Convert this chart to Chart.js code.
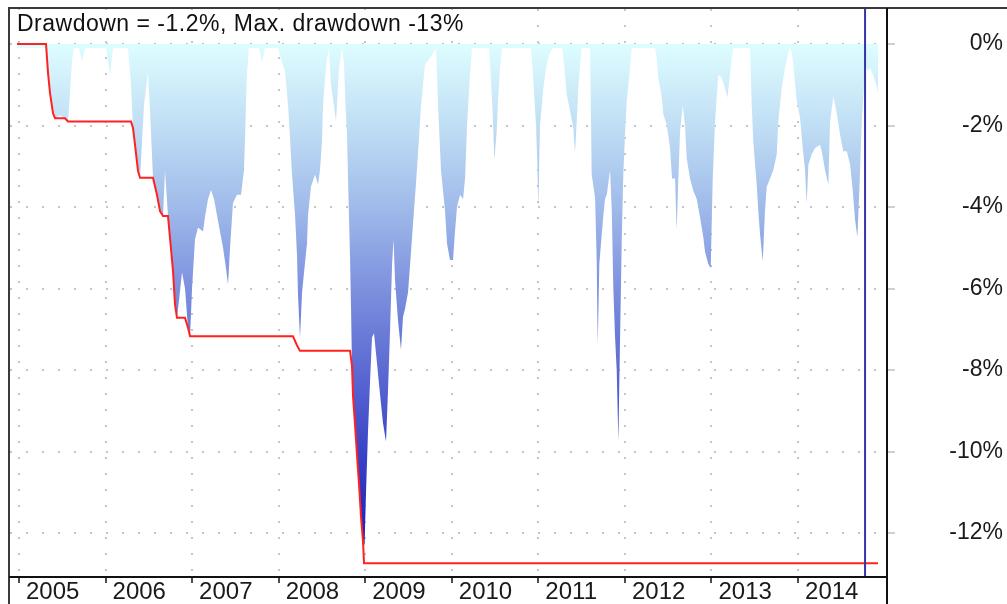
<!DOCTYPE html>
<html>
<head>
<meta charset="utf-8">
<title>Drawdown</title>
<script src="https://cdn.jsdelivr.net/npm/chart.js@4.4.1/dist/chart.umd.min.js"></script>
<style>
  html, body { margin: 0; padding: 0; background: #fff; }
  #wrap { width: 1007px; height: 604px; position: relative; }
</style>
</head>
<body>
<div id="wrap"><canvas id="ddChart"></canvas></div>
<script>
// drawdown series, dates as decimal years
const dates = [
  2004.977, 2005.312, 2005.335, 2005.358, 2005.393, 2005.416, 2005.474, 2005.531, 2005.566, 2005.589, 2005.612, 2005.635, 2005.693, 2005.728, 2005.762,
  2006.005, 2006.051, 2006.086, 2006.259, 2006.294, 2006.317, 2006.340, 2006.375, 2006.398, 2006.421, 2006.444, 2006.490, 2006.513, 2006.548, 2006.594,
  2006.629, 2006.664, 2006.687, 2006.721, 2006.744, 2006.779, 2006.802, 2006.825, 2006.848, 2006.883, 2006.918, 2006.952, 2006.976, 2006.999, 2007.033,
  2007.068, 2007.126, 2007.149, 2007.184, 2007.218, 2007.253, 2007.287, 2007.322, 2007.357, 2007.391, 2007.415, 2007.438, 2007.472, 2007.519, 2007.565,
  2007.599, 2007.611, 2007.634, 2007.657, 2007.773, 2007.807, 2007.842, 2007.992, 2008.015, 2008.073, 2008.108, 2008.131, 2008.154, 2008.189, 2008.212,
  2008.223, 2008.246, 2008.270, 2008.293, 2008.327, 2008.339, 2008.373, 2008.420, 2008.454, 2008.477, 2008.500, 2008.512, 2008.535, 2008.558, 2008.581,
  2008.604, 2008.639, 2008.662, 2008.697, 2008.732, 2008.755, 2008.772, 2008.789, 2008.807, 2008.824, 2008.836, 2008.847, 2008.859, 2008.882, 2008.905,
  2008.928, 2008.951, 2008.974, 2008.992, 2009.009, 2009.032, 2009.055, 2009.078, 2009.101, 2009.136, 2009.171, 2009.205, 2009.240, 2009.263, 2009.287,
  2009.310, 2009.327, 2009.344, 2009.379, 2009.413, 2009.436, 2009.459, 2009.494, 2009.529, 2009.552, 2009.587, 2009.621, 2009.644, 2009.690, 2009.748,
  2009.818, 2009.841, 2009.875, 2009.922, 2009.945, 2009.979, 2010.014, 2010.037, 2010.060, 2010.095, 2010.130, 2010.153, 2010.176, 2010.210, 2010.234,
  2010.430, 2010.447, 2010.473, 2010.491, 2010.519, 2010.534, 2010.557, 2010.580, 2010.915, 2010.935, 2010.973, 2010.988, 2010.999, 2011.019, 2011.057,
  2011.096, 2011.135, 2011.169, 2011.273, 2011.288, 2011.308, 2011.328, 2011.366, 2011.404, 2011.423, 2011.443, 2011.462, 2011.481, 2011.501, 2011.597,
  2011.616, 2011.655, 2011.674, 2011.686, 2011.704, 2011.732, 2011.751, 2011.770, 2011.790, 2011.828, 2011.848, 2011.866, 2011.886, 2011.905, 2011.924,
  2011.943, 2011.963, 2011.981, 2012.001, 2012.021, 2012.059, 2012.079, 2012.348, 2012.367, 2012.386, 2012.425, 2012.444, 2012.483, 2012.521, 2012.544,
  2012.579, 2012.598, 2012.617, 2012.637, 2012.668, 2012.694, 2012.714, 2012.752, 2012.790, 2012.829, 2012.868, 2012.906, 2012.925, 2012.963, 2012.991,
  2013.014, 2013.041, 2013.079, 2013.118, 2013.156, 2013.183, 2013.214, 2013.234, 2013.252, 2013.445, 2013.465, 2013.483, 2013.522, 2013.541, 2013.561,
  2013.592, 2013.618, 2013.638, 2013.676, 2013.714, 2013.754, 2013.772, 2013.811, 2013.849, 2013.888, 2013.907, 2013.927, 2013.945, 2013.985, 2014.023,
  2014.054, 2014.081, 2014.100, 2014.119, 2014.158, 2014.196, 2014.254, 2014.274, 2014.312, 2014.350, 2014.370, 2014.408, 2014.447, 2014.485, 2014.523,
  2014.563, 2014.601, 2014.632, 2014.658, 2014.685, 2014.708, 2014.736, 2014.754, 2014.774, 2014.797, 2014.832, 2014.855, 2014.889, 2014.912, 2014.924
];
const drawdown = [
  -0.1, -0.1, -0.7, -1.2, -1.7, -1.82, -1.75, -1.82, -1.9, -1.2, -0.4, -0.1, -0.1, -0.43, -0.1,
  -0.1, -0.75, -0.1, -0.1, -1.0, -2.06, -2.47, -3.12, -3.28, -2.4, -1.5, -0.7, -1.6, -3.28, -3.7,
  -4.1, -4.22, -3.1, -4.22, -4.75, -5.57, -6.39, -6.72, -6.3, -5.6, -6.0, -6.96, -7.17, -6.0, -4.8,
  -4.5, -4.6, -4.24, -3.8, -3.58, -3.8, -4.2, -4.6, -5.0, -5.5, -5.9, -5.0, -3.9, -3.7, -3.7,
  -3.1, -2.3, -0.7, -0.1, -0.1, -0.45, -0.1, -0.1, -0.3, -0.67, -1.5, -2.3, -3.2, -4.2, -5.2,
  -6.15, -7.2, -6.1, -5.6, -4.9, -4.2, -3.5, -3.2, -3.45, -3.1, -2.4, -1.5, -0.85, -0.35, -0.1,
  -1.0, -1.5, -1.9, -0.6, -0.1, -0.5, -1.5, -2.2, -3.8, -5.2, -6.5, -7.9, -8.65, -9.35, -10.1,
  -10.8, -11.6, -12.2, -12.3, -11.0, -9.5, -8.3, -7.2, -7.1, -7.84, -8.6, -9.3, -9.76, -8.5, -7.0,
  -5.4, -4.8, -5.8, -6.8, -7.5, -6.7, -6.5, -6.1, -5.1, -4.4, -3.4, -2.3, -1.5, -0.5, -0.35,
  -0.1, -1.5, -3.1, -4.1, -4.9, -5.3, -5.3, -4.6, -4.0, -3.7, -3.8, -3.3, -2.0, -0.75, -0.1,
  -0.1, -0.67, -1.73, -2.84, -2.14, -1.4, -0.6, -0.1, -0.1, -0.67, -2.0, -2.9, -4.0, -2.0, -1.08,
  -0.5, -0.2, -0.1, -0.1, -0.34, -0.75, -1.24, -1.65, -2.06, -2.67, -1.9, -1.08, -0.5, -0.1, -0.1,
  -3.2, -3.77, -5.33, -7.37, -5.4, -4.67, -4.2, -3.8, -3.7, -3.1, -4.1, -6.0, -7.2, -8.0, -9.74,
  -7.3, -4.84, -3.2, -2.2, -1.4, -0.6, -0.1, -0.1, -0.34, -0.83, -1.3, -1.73, -1.98, -2.55, -3.3,
  -3.3, -4.55, -3.3, -2.14, -1.5, -2.0, -2.8, -3.3, -3.6, -3.8, -4.26, -4.75, -5.1, -5.4, -5.5,
  -3.3, -1.9, -0.75, -0.83, -1.08, -1.32, -0.75, -0.34, -0.1, -0.1, -1.5, -2.4, -3.45, -4.1, -4.67,
  -5.33, -4.1, -3.5, -3.3, -3.1, -2.7, -1.9, -1.08, -0.59, -0.2, -0.1, -0.2, -0.5, -1.4, -1.8,
  -2.55, -3.1, -3.9, -2.96, -2.7, -2.55, -2.47, -2.63, -3.1, -3.45, -1.9, -1.28, -1.7, -2.22, -2.63,
  -2.63, -2.95, -3.6, -4.3, -4.75, -3.6, -1.9, -1.3, -0.4, -0.65, -0.6, -0.7, -0.9, -1.05, -1.2
];

// max drawdown (red step line)
const maxDates = [
  2004.977, 2005.312, 2005.335, 2005.358, 2005.393, 2005.416, 2005.531, 2005.566,
  2006.294, 2006.317, 2006.340, 2006.375, 2006.398, 2006.548, 2006.594, 2006.629, 2006.664,
  2006.721, 2006.744, 2006.779, 2006.802, 2006.825, 2006.918, 2006.952, 2006.976,
  2008.165, 2008.208, 2008.246, 2008.824, 2008.847, 2008.859, 2008.882, 2008.905,
  2008.928, 2008.951, 2008.974, 2008.986, 2014.924
];
const maxDrawdown = [
  0, 0, -0.7, -1.2, -1.7, -1.82, -1.82, -1.9,
  -1.9, -2.06, -2.47, -3.12, -3.28, -3.28, -3.7, -4.1, -4.22,
  -4.22, -4.75, -5.57, -6.39, -6.72, -6.72, -6.96, -7.17,
  -7.17, -7.38, -7.53, -7.53, -7.9, -8.65, -9.35, -10.1,
  -10.8, -11.6, -12.2, -12.74, -12.74
];

const markerDate = 2014.774;
const yearTicks = [2005, 2006, 2007, 2008, 2009, 2010, 2011, 2012, 2013, 2014];
const pctTicks = [0, -2, -4, -6, -8, -10, -12];
const xMin = 2004.896, xMax = 2015.016;
const yMin = -13.08, yMax = 0.86;
const titleText = "Drawdown = -1.2%, Max. drawdown -13%";

const fontFamily = "'Liberation Sans', Arial, sans-serif";

function areaGradient(context) {
  const chart = context.chart;
  const { ctx, chartArea, scales } = chart;
  if (!chartArea) return "rgba(150,170,230,0.8)";
  const top = scales.y.getPixelForValue(0);
  const bottom = scales.y.getPixelForValue(-12.75);
  const g = ctx.createLinearGradient(0, top, 0, bottom);
  g.addColorStop(0, "rgb(222,253,255)");
  g.addColorStop(0.157, "rgb(192,222,244)");
  g.addColorStop(0.314, "rgb(160,186,234)");
  g.addColorStop(0.47, "rgb(125,145,222)");
  g.addColorStop(0.627, "rgb(92,106,210)");
  g.addColorStop(0.784, "rgb(58,68,198)");
  g.addColorStop(1, "rgb(20,25,180)");
  return g;
}

// axis label padding would otherwise push the plot area down
function noScalePadding(scale) {
  scale.paddingTop = 0;
  scale.paddingBottom = 0;
  scale.paddingLeft = 0;
  scale.paddingRight = 0;
}

// frame lines and the caption in the top-left corner
const framePlugin = {
  id: "frame",
  afterDraw(chart) {
    const { ctx, chartArea, width, height } = chart;
    ctx.save();
    ctx.fillStyle = "#fff";
    ctx.fillRect(chartArea.left, chartArea.top + 1, 462, 30);
    ctx.font = "23px " + fontFamily;
    ctx.letterSpacing = "0.5px";
    ctx.fillStyle = "#111";
    ctx.textBaseline = "alphabetic";
    ctx.fillText(titleText, chartArea.left + 7, 31);
    ctx.letterSpacing = "0px";

    ctx.lineWidth = 2;
    ctx.strokeStyle = "#3a3a3a";
    ctx.beginPath();
    ctx.moveTo(9, height);
    ctx.lineTo(9, 8);
    ctx.lineTo(width, 8);
    ctx.stroke();
    ctx.strokeStyle = "#111";
    ctx.beginPath();
    ctx.moveTo(chartArea.right + 1, 8);
    ctx.lineTo(chartArea.right + 1, height);
    ctx.moveTo(9, chartArea.bottom);
    ctx.lineTo(chartArea.right + 1, chartArea.bottom);
    ctx.stroke();
    ctx.restore();
  }
};

document.addEventListener("DOMContentLoaded", function () {
  const ctx = document.getElementById("ddChart").getContext("2d");

  new Chart(ctx, {
    type: "line",
    data: {
      datasets: [
        {
          label: "Marker",
          data: [{ x: markerDate, y: yMax }, { x: markerDate, y: yMin }],
          borderColor: "#3535a6",
          borderWidth: 2,
          pointRadius: 0,
          fill: false,
          order: 0,
        },
        {
          label: "Max. drawdown",
          data: maxDates.map((d, i) => ({ x: d, y: maxDrawdown[i] })),
          borderColor: "#ff2222",
          borderWidth: 2,
          pointRadius: 0,
          fill: false,
          order: 1,
        },
        {
          label: "Drawdown",
          data: dates.map((d, i) => ({ x: d, y: drawdown[i] })),
          borderWidth: 0,
          borderColor: "rgba(0,0,0,0)",
          backgroundColor: areaGradient,
          pointRadius: 0,
          fill: "origin",
          tension: 0,
          order: 2,
        },
      ],
    },
    options: {
      responsive: true,
      maintainAspectRatio: false,
      animation: false,
      layout: { padding: { left: 10, top: 9, right: 4, bottom: 0 } },
      plugins: {
        legend: { display: false },
        tooltip: { enabled: false },
      },
      scales: {
        x: {
          type: "linear",
          min: xMin,
          max: xMax,
          afterBuildTicks: (scale) => {
            scale.ticks = yearTicks.map((v) => ({ value: v }));
          },
          afterFit: (scale) => {
            scale.height = 27;
            noScalePadding(scale);
          },
          grid: {
            color: "#c4c4c4",
            lineWidth: 2,
            tickLength: 6,
            tickColor: "#111",
            tickWidth: 1.5,
          },
          border: { display: false, dash: [2, 14] },
          ticks: {
            align: "start",
            labelOffset: 7,
            padding: -3,
            autoSkip: false,
            maxRotation: 0,
            color: "#1a1a1a",
            font: { family: fontFamily, size: 24, lineHeight: 1 },
            callback: (v) => String(v),
          },
        },
        y: {
          position: "right",
          min: yMin,
          max: yMax,
          afterBuildTicks: (scale) => {
            scale.ticks = pctTicks.map((v) => ({ value: v }));
          },
          afterFit: (scale) => {
            scale.width = 117;
            noScalePadding(scale);
          },
          grid: {
            color: "#c4c4c4",
            lineWidth: 2,
            tickLength: 9,
            tickColor: "#a0a0a0",
            tickWidth: 1,
          },
          border: { display: false, dash: [2, 14] },
          ticks: {
            crossAlign: "far",
            padding: 8,
            color: "#1a1a1a",
            font: { family: fontFamily, size: 23 },
            callback: (v) => v + "%",
          },
        },
      },
    },
    plugins: [framePlugin],
  });
});
</script>
</body>
</html>
